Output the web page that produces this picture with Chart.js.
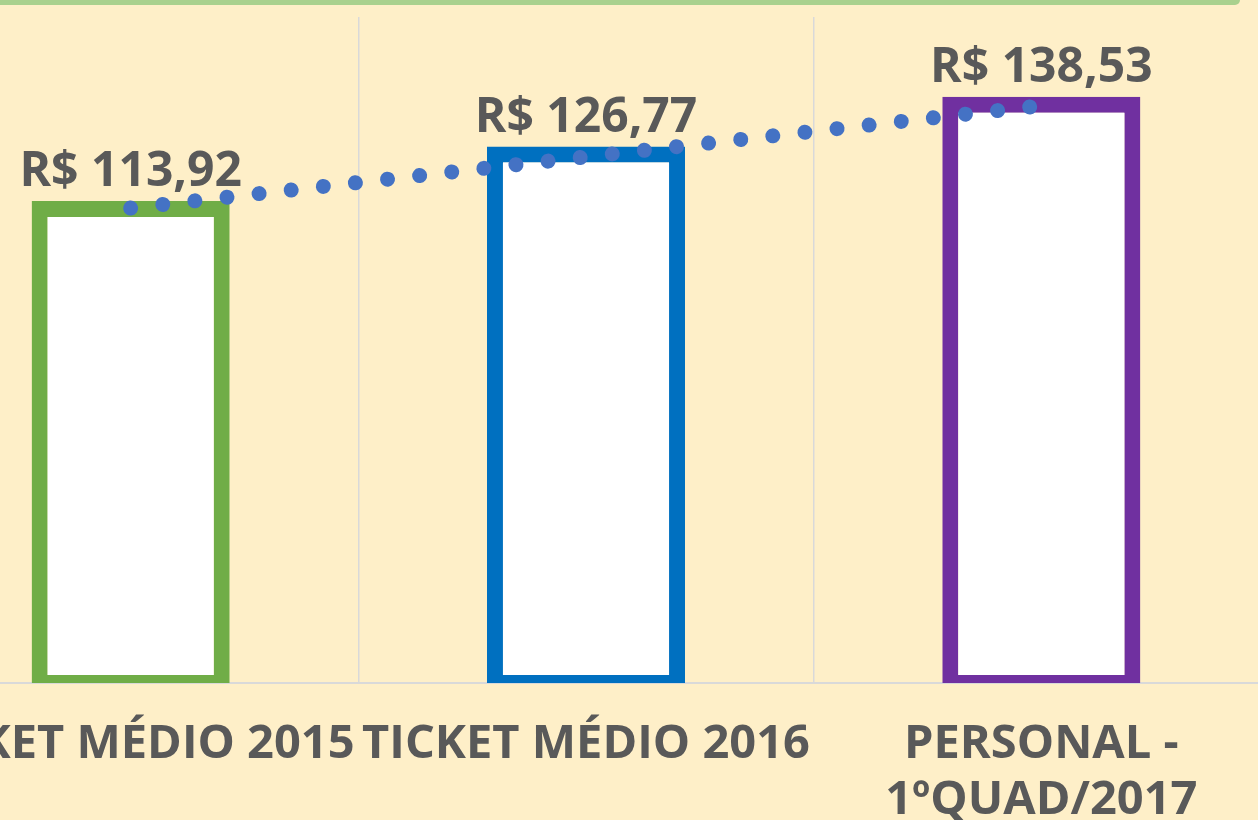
<!DOCTYPE html>
<html>
<head>
<meta charset="utf-8">
<script src="https://cdn.jsdelivr.net/npm/chart.js@4"></script>
<style>
  html, body { margin: 0; padding: 0; background: #FEEFC8; overflow: hidden; }
  #frame { position: absolute; left: 0; top: 0; width: 1258px; height: 820px; overflow: hidden; }
  #topBand { position: absolute; left: 0; top: 0; width: 1240px; height: 5px; background: #A9D18E; border-bottom-right-radius: 9px; }
  #wrap { position: absolute; left: -97px; top: 0; width: 1366px; height: 820px; }
</style>
</head>
<body>
<div id="frame">
  <div id="wrap"><canvas id="ticketChart" width="1366" height="820"></canvas></div>
  <div id="topBand"></div>
</div>
<script>
// values
const categories = ["TICKET MÉDIO 2015", "TICKET MÉDIO 2016", ["PERSONAL -", "1ºQUAD/2017"]];
const ticketValues = [113.92, 126.77, 138.53];
const trendValues = [114.1, 126.4, 138.7]; // dotted linear trend, estimated
const barColors = ["#70AD47", "#0070C0", "#7030A0"];

const textGray = "#595959";
const labelFont = { family: "'Open Sans', sans-serif", weight: "bold", size: 47 };

// draws "R$ 113,92" above each bar
const valueLabels = {
  id: "valueLabels",
  afterDatasetsDraw(chart) {
    const ctx = chart.ctx;
    const meta = chart.getDatasetMeta(0);
    ctx.save();
    ctx.font = "bold 48px 'Open Sans', sans-serif";
    ctx.fillStyle = textGray;
    ctx.textAlign = "center";
    ctx.textBaseline = "alphabetic";
    meta.data.forEach((bar, i) => {
      const txt = "R$ " + ticketValues[i].toFixed(2).replace(".", ",");
      ctx.fillText(txt, bar.x, bar.y - 15);
    });
    ctx.restore();
  }
};

const ctx = document.getElementById("ticketChart").getContext("2d");
const chart = new Chart(ctx, {
  type: "bar",
  data: {
    labels: categories,
    datasets: [
      {
        type: "bar",
        data: ticketValues,
        backgroundColor: "#FFFFFF",
        borderColor: barColors,
        borderWidth: { top: 16, left: 16, right: 16, bottom: 8 },
        borderSkipped: false,
        barPercentage: 0.435,
        categoryPercentage: 1,
        yAxisID: "y",
        order: 2,
      },
      {
        type: "line",
        data: trendValues,
        borderColor: "#4472C4",
        borderWidth: 15,
        borderDash: [0.01, 32.3],
        borderCapStyle: "round",
        pointRadius: 0,
        tension: 0,
        fill: false,
        yAxisID: "y2",
        order: 1,
      },
    ],
  },
  options: {
    responsive: false,
    animation: false,
    layout: { padding: { top: 17, left: 0, right: 0, bottom: 0 } },
    plugins: {
      legend: { display: false },
      tooltip: { enabled: false },
    },
    scales: {
      x: {
        grid: { color: "#D9D9D9", lineWidth: 1.5, drawTicks: false, offset: true },
        border: { color: "#D9D9D9", width: 2 },
        ticks: {
          color: textGray,
          font: { ...labelFont, lineHeight: 1.2 },
          padding: 33,
          autoSkip: false,
          maxRotation: 0,
          minRotation: 0,
        },
        afterFit: (scale) => {
          scale.height = 137;
          // labels may spill past the edges, like the original
          scale.paddingLeft = 0;
          scale.paddingRight = 0;
        },
      },
      // bars: outer edge of the thick border sits on the value
      y: { display: false, min: 0, max: 157.4 },
      // trend line axis
      y2: { display: false, min: 0, max: 160 },
    },
  },
  plugins: [valueLabels],
});
</script>
</body>
</html>
